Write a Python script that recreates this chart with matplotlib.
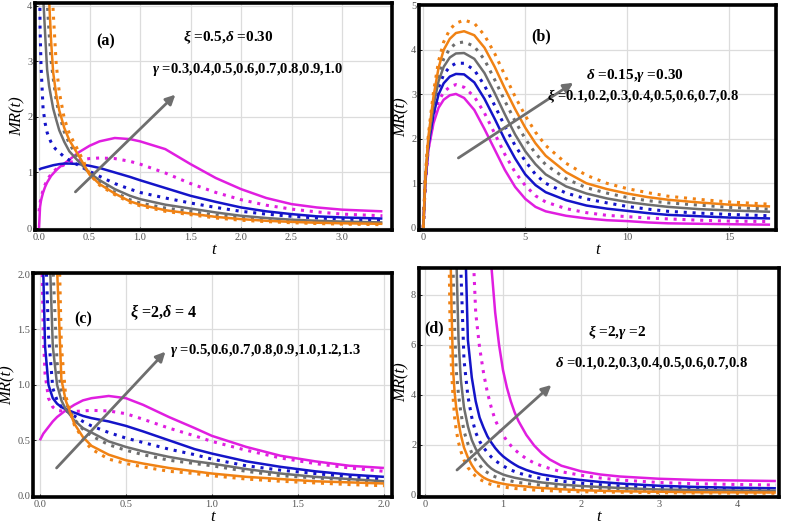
#MR(t) curves for four parameter sweeps, 2x2 panels
import numpy as np
import matplotlib
matplotlib.use("Agg")
import matplotlib.pyplot as plt
from matplotlib.ticker import FormatStrFormatter

nan = np.nan

# greek letters in the notes are bold italic, the rest bold upright
plt.rcParams['mathtext.fontset'] = 'custom'
plt.rcParams['mathtext.it'] = 'Liberation Serif:italic:bold'
plt.rcParams['mathtext.rm'] = 'Liberation Serif:bold'
plt.rcParams['mathtext.bf'] = 'Liberation Serif:bold'

# line colours / styles, same order in every panel
colors = ['#e01ee0', '#e01ee0', '#1414c8', '#1414c8', '#6e6e6e', '#6e6e6e', '#f08214', '#f08214']
styles = ['-', ':', '-', ':', '-', ':', '-', ':']

# ---- panel (a): xi=0.5, delta=0.30, gamma sweep
t_a = [0, 0.01, 0.02, 0.04, 0.06, 0.08, 0.1, 0.12, 0.14, 0.17, 0.2, 0.25, 0.3, 0.4, 0.5,
       0.6, 0.75, 0.9, 1.0, 1.25, 1.5, 1.75, 2.0, 2.25, 2.5, 2.75, 3.0, 3.4]
mr_a = [
    [0, 0.38, 0.5, 0.64, 0.74, 0.82, 0.88, 0.94, 0.98, 1.04, 1.09, 1.16, 1.23, 1.37, 1.48,
     1.56, 1.62, 1.6, 1.56, 1.42, 1.15, 0.9, 0.7, 0.54, 0.43, 0.37, 0.33, 0.3],
    [0.3, 0.45, 0.55, 0.68, 0.78, 0.86, 0.92, 0.97, 1.01, 1.06, 1.09, 1.14, 1.18, 1.22, 1.25,
     1.26, 1.25, 1.2, 1.15, 0.99, 0.8, 0.64, 0.51, 0.41, 0.34, 0.29, 0.25, 0.22],
    [1.05, 1.06, 1.07, 1.08, 1.09, 1.1, 1.11, 1.12, 1.13, 1.14, 1.15, 1.16, 1.16, 1.15, 1.12,
     1.08, 1.0, 0.92, 0.86, 0.72, 0.58, 0.47, 0.37, 0.3, 0.25, 0.21, 0.19, 0.17],
    [6.0, 3.6, 2.9, 2.15, 1.89, 1.72, 1.62, 1.54, 1.47, 1.41, 1.36, 1.28, 1.22, 1.12, 1.02,
     0.93, 0.8, 0.7, 0.64, 0.54, 0.45, 0.37, 0.3, 0.25, 0.21, 0.18, 0.16, 0.14],
    [20, 12, 8, 4.2, 3.5, 2.85, 2.55, 2.35, 2.15, 1.95, 1.76, 1.55, 1.38, 1.18, 0.99,
     0.86, 0.7, 0.58, 0.52, 0.42, 0.35, 0.28, 0.22, 0.18, 0.15, 0.13, 0.115, 0.1],
    [30, 20, 14, 8, 5.5, 4.1, 3.5, 3.0, 2.7, 2.3, 2.05, 1.73, 1.52, 1.22, 0.97,
     0.82, 0.64, 0.51, 0.45, 0.36, 0.3, 0.23, 0.18, 0.145, 0.12, 0.105, 0.092, 0.08],
    [40, 30, 22, 12, 8, 5.5, 4.1, 3.35, 2.8, 2.4, 2.12, 1.8, 1.58, 1.28, 0.96,
     0.79, 0.62, 0.48, 0.42, 0.32, 0.26, 0.2, 0.16, 0.13, 0.11, 0.095, 0.085, 0.075],
    [60, 45, 32, 18, 12, 8.5, 6.2, 4.8, 3.9, 2.95, 2.45, 1.97, 1.7, 1.35, 0.97,
     0.77, 0.6, 0.46, 0.4, 0.3, 0.24, 0.18, 0.14, 0.115, 0.095, 0.08, 0.07, 0.06],
]

# ---- panel (b): delta=0.15, gamma=0.30, xi sweep
t_b = [0, 0.1, 0.25, 0.5, 0.75, 1.0, 1.3, 1.6, 2.0, 2.5, 3.0, 3.5, 4.0, 4.5, 5.0, 5.5, 6.0,
       7.0, 8.0, 9.0, 10, 11, 12, 13.5, 15, 17]
mr_b = [
    [0, 1.0, 1.75, 2.35, 2.7, 2.88, 2.98, 3.01, 2.92, 2.65, 2.22, 1.76, 1.3, 0.92, 0.65, 0.47,
     0.37, 0.27, 0.21, 0.17, 0.15, 0.12, 0.1, 0.09, 0.08, 0.07],
    [0, 1.02, 1.8, 2.45, 2.85, 3.05, 3.17, 3.22, 3.16, 2.95, 2.58, 2.12, 1.65, 1.25, 0.95, 0.72,
     0.58, 0.43, 0.34, 0.28, 0.25, 0.22, 0.2, 0.17, 0.15, 0.14],
    [0, 1.05, 1.85, 2.55, 3.0, 3.25, 3.4, 3.46, 3.45, 3.27, 2.9, 2.45, 1.98, 1.56, 1.2, 0.96,
     0.8, 0.62, 0.5, 0.43, 0.38, 0.33, 0.29, 0.26, 0.23, 0.21],
    [0, 1.07, 1.9, 2.65, 3.15, 3.45, 3.62, 3.7, 3.7, 3.55, 3.2, 2.75, 2.28, 1.85, 1.5, 1.2,
     1.0, 0.78, 0.65, 0.56, 0.48, 0.42, 0.37, 0.33, 0.3, 0.27],
    [0, 1.09, 1.95, 2.75, 3.3, 3.62, 3.83, 3.92, 3.93, 3.8, 3.48, 3.03, 2.55, 2.1, 1.72, 1.43,
     1.2, 0.93, 0.77, 0.66, 0.58, 0.52, 0.47, 0.42, 0.39, 0.36],
    [0, 1.1, 2.0, 2.85, 3.45, 3.8, 4.03, 4.15, 4.18, 4.08, 3.78, 3.33, 2.85, 2.4, 2.0, 1.67,
     1.42, 1.1, 0.9, 0.78, 0.68, 0.61, 0.56, 0.51, 0.46, 0.42],
    [0, 1.12, 2.05, 2.95, 3.6, 4.0, 4.25, 4.38, 4.42, 4.33, 4.05, 3.62, 3.13, 2.67, 2.25, 1.9,
     1.62, 1.25, 1.0, 0.87, 0.77, 0.69, 0.63, 0.57, 0.52, 0.48],
    [0, 1.15, 2.1, 3.05, 3.75, 4.18, 4.46, 4.6, 4.67, 4.6, 4.33, 3.92, 3.43, 2.95, 2.52, 2.15,
     1.85, 1.45, 1.18, 1.0, 0.88, 0.79, 0.71, 0.64, 0.58, 0.53],
]

# ---- panel (c): xi=2, delta=4, gamma sweep
t_c = [0, 0.01, 0.02, 0.03, 0.05, 0.075, 0.1, 0.125, 0.15, 0.2, 0.25, 0.3, 0.4, 0.5, 0.6,
       0.75, 0.9, 1.0, 1.2, 1.4, 1.6, 1.8, 2.0]
mr_c = [
    [0.5, 0.53, 0.56, 0.58, 0.62, 0.67, 0.71, 0.74, 0.77, 0.82, 0.86, 0.88, 0.9, 0.88, 0.82,
     0.71, 0.61, 0.54, 0.44, 0.36, 0.31, 0.27, 0.25],
    [4.0, 2.3, 1.45, 1.1, 0.88, 0.8, 0.77, 0.765, 0.76, 0.76, 0.765, 0.77, 0.765, 0.74, 0.69,
     0.61, 0.54, 0.49, 0.41, 0.34, 0.29, 0.25, 0.22],
    [5, 3.0, 2.0, 1.35, 1.0, 0.88, 0.83, 0.8, 0.78, 0.75, 0.72, 0.7, 0.67, 0.63, 0.58,
     0.5, 0.42, 0.38, 0.31, 0.26, 0.22, 0.19, 0.17],
    [8, 5, 3.5, 2.4, 1.45, 0.97, 0.86, 0.8, 0.77, 0.72, 0.67, 0.63, 0.57, 0.52, 0.48,
     0.42, 0.37, 0.33, 0.27, 0.23, 0.2, 0.17, 0.15],
    [10, 8, 6, 4.5, 2.5, 1.35, 1.0, 0.86, 0.78, 0.68, 0.61, 0.57, 0.49, 0.44, 0.4,
     0.35, 0.31, 0.29, 0.24, 0.2, 0.17, 0.15, 0.13],
    [12, 10, 8, 6, 3.8, 2.1, 1.2, 0.95, 0.84, 0.69, 0.6, 0.54, 0.46, 0.41, 0.37,
     0.32, 0.29, 0.27, 0.22, 0.18, 0.16, 0.14, 0.12],
    [15, 12, 10, 8, 5.5, 3.5, 2.05, 1.05, 0.86, 0.65, 0.53, 0.45, 0.37, 0.32, 0.29,
     0.25, 0.22, 0.2, 0.17, 0.15, 0.13, 0.12, 0.11],
    [20, 16, 13, 11, 8, 5, 3.0, 1.35, 0.9, 0.64, 0.51, 0.42, 0.33, 0.29, 0.26,
     0.22, 0.2, 0.18, 0.15, 0.13, 0.115, 0.1, 0.09],
]

# ---- panel (d): xi=2, gamma=2, delta sweep
t_d = [0.3, 0.32, 0.34, 0.36, 0.38, 0.4, 0.43, 0.46, 0.5, 0.55, 0.6, 0.65, 0.7, 0.75, 0.8,
       0.85, 0.9, 0.95, 1.0, 1.05, 1.1, 1.15, 1.2, 1.3, 1.4, 1.5, 1.6, 1.75, 2.0, 2.25,
       2.5, 3.0, 3.5, 4.0, 4.5]
mr_d = [
    [nan, nan, nan, nan, nan, nan, nan, nan, nan, nan, nan, nan, nan, nan, 13,
     9.2, 7.3, 6.0, 5.0, 4.3, 3.75, 3.3, 2.95, 2.4, 1.98, 1.66, 1.42, 1.17, 0.95, 0.82,
     0.74, 0.65, 0.6, 0.58, 0.56],
    [nan, nan, nan, nan, nan, nan, nan, nan, nan, nan, 11, 7.3, 5.9, 4.9, 4.1,
     3.5, 3.0, 2.68, 2.4, 2.17, 1.98, 1.82, 1.68, 1.45, 1.28, 1.16, 1.06, 0.93, 0.79, 0.68,
     0.6, 0.5, 0.45, 0.42, 0.4],
    [nan, nan, nan, nan, nan, nan, nan, nan, 12, 6.2, 4.7, 3.75, 3.1, 2.7, 2.35,
     2.1, 1.88, 1.7, 1.55, 1.43, 1.32, 1.22, 1.13, 1.0, 0.9, 0.82, 0.77, 0.69, 0.6, 0.52,
     0.46, 0.37, 0.32, 0.29, 0.27],
    [nan, nan, nan, nan, nan, nan, 12, 9.0, 5.4, 3.95, 3.1, 2.5, 2.15, 1.9, 1.7,
     1.52, 1.38, 1.27, 1.17, 1.08, 1.0, 0.94, 0.88, 0.79, 0.72, 0.66, 0.62, 0.55, 0.47, 0.41,
     0.36, 0.29, 0.25, 0.23, 0.22],
    [nan, nan, nan, nan, 12.5, 9.8, 6.2, 4.6, 3.5, 2.75, 2.2, 1.85, 1.58, 1.38, 1.2,
     1.06, 0.96, 0.89, 0.82, 0.77, 0.73, 0.69, 0.66, 0.6, 0.55, 0.5, 0.47, 0.42, 0.36, 0.32,
     0.28, 0.22, 0.2, 0.18, 0.17],
    [nan, nan, 12, 9.0, 6.7, 5.0, 4.0, 3.3, 2.55, 2.05, 1.68, 1.4, 1.2, 1.0, 0.9,
     0.8, 0.73, 0.68, 0.63, 0.59, 0.56, 0.53, 0.5, 0.46, 0.42, 0.39, 0.36, 0.32, 0.27, 0.24,
     0.21, 0.17, 0.15, 0.14, 0.13],
    [20, 11, 7.5, 5.0, 4.1, 3.5, 2.9, 2.4, 1.9, 1.5, 1.2, 0.96, 0.82, 0.7, 0.62,
     0.56, 0.52, 0.48, 0.45, 0.42, 0.4, 0.38, 0.37, 0.34, 0.3, 0.28, 0.26, 0.23, 0.19, 0.17,
     0.15, 0.13, 0.11, 0.105, 0.1],
    [12, 7.0, 5.0, 3.9, 3.1, 2.6, 2.1, 1.75, 1.4, 1.1, 0.9, 0.75, 0.63, 0.55, 0.47,
     0.42, 0.38, 0.35, 0.32, 0.3, 0.28, 0.26, 0.25, 0.22, 0.2, 0.18, 0.17, 0.15, 0.13, 0.12,
     0.11, 0.09, 0.08, 0.075, 0.07],
]

W, H = 787, 524
fig = plt.figure(figsize=(W / 100, H / 100), dpi=100)
serif = 'Liberation Serif'


def make_axes(left, top, right, bottom):
    return fig.add_axes([left / W, 1 - bottom / H, (right - left) / W, (bottom - top) / H])


def draw_panel(ax, t, curves, xlim, ylim, xticks, yticks, xfmt, yfmt):
    for k, v in enumerate(curves):
        if styles[k] == '-':
            ax.plot(t, v, color=colors[k], lw=1.8, solid_capstyle='butt')
        else:
            ax.plot(t, v, color=colors[k], lw=2.2, linestyle=(0, (1, 1.9)))
    ax.set_xlim(*xlim)
    ax.set_ylim(*ylim)
    ax.set_xticks(xticks)
    ax.set_yticks(yticks)
    ax.xaxis.set_major_formatter(FormatStrFormatter(xfmt))
    ax.yaxis.set_major_formatter(FormatStrFormatter(yfmt))
    ax.grid(True, color='#dcdcdc', lw=0.9)
    ax.set_axisbelow(True)
    for s in ax.spines.values():
        s.set_linewidth(2.6)
        s.set_color('black')
    ax.tick_params(direction='in', length=2, width=0.6, labelsize=7.5, labelcolor='#555555', pad=2)
    for lab in ax.get_xticklabels() + ax.get_yticklabels():
        lab.set_family(serif)
    ax.set_xlabel('t', fontsize=12, fontstyle='italic', family=serif, labelpad=0)
    ax.set_ylabel('MR(t)', fontsize=12, fontstyle='italic', family=serif, labelpad=1)


def arrow(ax, start, end):
    ax.annotate('', xy=end, xytext=start,
                arrowprops=dict(arrowstyle='-|>', color='#6e6e6e', lw=2.0, mutation_scale=14,
                                shrinkA=0, shrinkB=0))


def label(ax, x, y, s, size=10.5):
    ax.text(x, y, s, fontsize=size, fontweight='bold', family=serif, ha='center', va='center')


# (a)
ax_a = make_axes(35, 3, 392, 230)
draw_panel(ax_a, t_a, mr_a, (-0.04, 3.495), (-0.036, 4.05),
           [0, 0.5, 1.0, 1.5, 2.0, 2.5, 3.0], [0, 1, 2, 3, 4], '%.1f', '%d')
arrow(ax_a, (0.36, 0.65), (1.35, 2.4))
label(ax_a, 0.66, 3.35, '(a)', 11.5)
label(ax_a, 1.87, 3.44, r'$\xi$ =0.5,$\delta$ =0.30', 11)
label(ax_a, 2.07, 2.85, r'$\gamma$ =0.3,0.4,0.5,0.6,0.7,0.8,0.9,1.0')

# (b)
ax_b = make_axes(419, 5, 776, 230)
draw_panel(ax_b, t_b, mr_b, (-0.21, 17.29), (-0.05, 5.01),
           [0, 5, 10, 15], [0, 1, 2, 3, 4, 5], '%d', '%d')
arrow(ax_b, (1.72, 1.57), (7.35, 3.26))
label(ax_b, 5.8, 4.31, '(b)', 11.5)
label(ax_b, 10.38, 3.42, r'$\delta$ =0.15,$\gamma$ =0.30', 11)
label(ax_b, 10.75, 2.96, r'$\xi$ =0.1,0.2,0.3,0.4,0.5,0.6,0.7,0.8')

# (c)
ax_c = make_axes(33, 273, 392, 497)
draw_panel(ax_c, t_c, mr_c, (-0.04, 2.047), (-0.012, 2.01),
           [0, 0.5, 1.0, 1.5, 2.0], [0, 0.5, 1.0, 1.5, 2.0], '%.1f', '%.1f')
arrow(ax_c, (0.097, 0.25), (0.73, 1.3))
label(ax_c, 0.25, 1.59, '(c)', 11.5)
label(ax_c, 0.72, 1.66, r'$\xi$ =2,$\delta$ = 4', 11.5)
label(ax_c, 1.31, 1.31, r'$\gamma$ =0.5,0.6,0.7,0.8,0.9,1.0,1.2,1.3')

# (d)
ax_d = make_axes(419, 268, 779, 497)
draw_panel(ax_d, t_d, mr_d, (-0.077, 4.54), (-0.08, 9.08),
           [0, 1, 2, 3, 4], [0, 2, 4, 6, 8], '%d', '%d')
arrow(ax_d, (0.41, 1.0), (1.62, 4.4))
label(ax_d, 0.11, 6.67, '(d)', 11.5)
label(ax_d, 2.47, 6.53, r'$\xi$ =2,$\gamma$ =2', 11)
label(ax_d, 2.91, 5.27, r'$\delta$ =0.1,0.2,0.3,0.4,0.5,0.6,0.7,0.8')

fig.savefig('out.png', dpi=100)
